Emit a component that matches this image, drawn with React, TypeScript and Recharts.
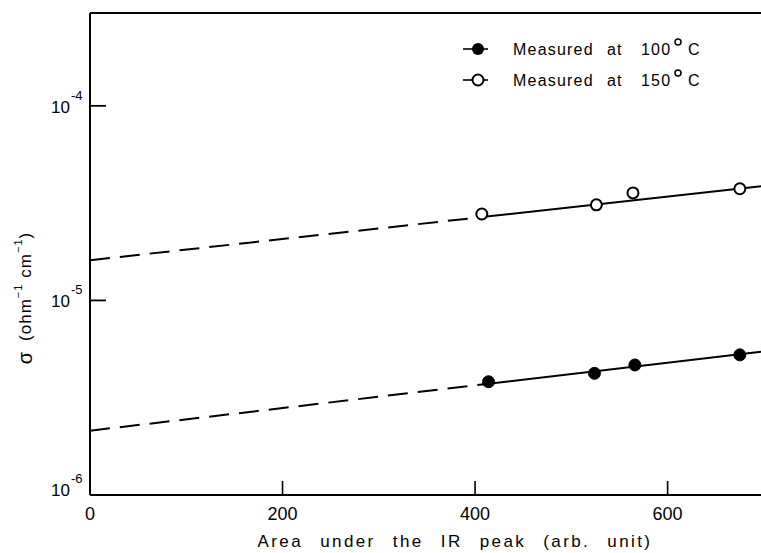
import React from 'react';
import { ComposedChart, Line, Scatter, XAxis, YAxis, ReferenceLine, Legend, Label } from 'recharts';

const FONT = '"Liberation Sans", Arial, sans-serif';

const xTicks = [0, 200, 400, 600];
const yTicks = [1e-6, 1e-5, 1e-4];
const yTickExponents = ['-6', '-5', '-4'];
const xDomain: [number, number] = [0, 697];
const yDomain: [number, number] = [1e-6, 3e-4];

// Measured at 100 °C (filled)
const area100 = [414, 524, 566, 675];
const sigma100 = [3.82e-6, 4.22e-6, 4.66e-6, 5.25e-6];
// Measured at 150 °C (open)
const area150 = [407, 526, 564, 675];
const sigma150 = [2.78e-5, 3.1e-5, 3.57e-5, 3.75e-5];

// Fitted lines (dashed extrapolation + solid fit)
const fitDashX100 = [0, 414];
const fitDashY100 = [2.14e-6, 3.73e-6];
const fitSolidX100 = [414, 697];
const fitSolidY100 = [3.73e-6, 5.45e-6];
const fitDashX150 = [0, 407];
const fitDashY150 = [1.61e-5, 2.68e-5];
const fitSolidX150 = [407, 697];
const fitSolidY150 = [2.68e-5, 3.86e-5];

const legendLabels = ['100', '150'];

const toPoints = (xs: number[], ys: number[]) => xs.map((x, i) => ({ x, y: ys[i] }));

const XTick = (props: any) => {
  const { x, y, payload } = props;
  return (
    <g>
      {payload.value !== 0 && (
        <line x1={x} x2={x} y1={y} y2={y - 14} stroke="#000" strokeWidth={1.6} />
      )}
      <text x={x} y={y + 25} textAnchor="middle" fontSize={18} fontFamily={FONT} fill="#000">
        {payload.value}
      </text>
    </g>
  );
};

const YTick = (props: any) => {
  const { x, y, payload } = props;
  const idx = yTicks.indexOf(payload.value);
  const isBottom = idx === 0;
  const base = y + (isBottom ? 1 : 7);
  return (
    <g>
      {!isBottom && <line x1={x} x2={x + 16} y1={y} y2={y} stroke="#000" strokeWidth={1.8} />}
      <text x={x - 20} y={base} textAnchor="end" fontSize={17} fontFamily={FONT} fill="#000">
        10
      </text>
      <text x={x - 19} y={base - 13} textAnchor="start" fontSize={13} fontFamily={FONT} fill="#000">
        {yTickExponents[idx]}
      </text>
    </g>
  );
};

const OpenDot = (props: any) => (
  <circle cx={props.cx} cy={props.cy} r={5.5} fill="#fff" stroke="#000" strokeWidth={2} />
);
const FilledDot = (props: any) => (
  <circle cx={props.cx} cy={props.cy} r={6} fill="#000" stroke="#000" strokeWidth={1} />
);

const renderLegend = () => {
  const rows = [
    { label: legendLabels[0], filled: true, cy: 19 },
    { label: legendLabels[1], filled: false, cy: 50 },
  ];
  return (
    <svg width={260} height={70} style={{ display: 'block', overflow: 'visible' }}>
      {rows.map((r) => (
        <g key={r.label}>
          <line x1={8} x2={33} y1={r.cy} y2={r.cy} stroke="#000" strokeWidth={1.6} />
          {r.filled ? (
            <circle cx={23} cy={r.cy} r={6} fill="#000" />
          ) : (
            <circle cx={23} cy={r.cy} r={5.5} fill="#fff" stroke="#000" strokeWidth={2} />
          )}
          <text y={r.cy + 6} fontSize={16} fontFamily={FONT} fill="#000" letterSpacing={1.2}>
            <tspan x={58}>Measured</tspan>
            <tspan x={152}>at</tspan>
            <tspan x={186}>{r.label}</tspan>
          </text>
          <circle cx={223} cy={r.cy - 7} r={3} fill="none" stroke="#000" strokeWidth={1.5} />
          <text x={233} y={r.cy + 6} fontSize={16} fontFamily={FONT} fill="#000">
            C
          </text>
        </g>
      ))}
    </svg>
  );
};

const XLabel = (props: any) => {
  const { viewBox } = props;
  return (
    <text
      x={viewBox.x + 365}
      y={viewBox.y + 52}
      textAnchor="middle"
      fontSize={17}
      fontFamily={FONT}
      fill="#000"
      style={{ letterSpacing: '2.4px', wordSpacing: '10px' }}
    >
      Area under the IR peak (arb. unit)
    </text>
  );
};

const YLabel = (props: any) => {
  const { viewBox } = props;
  const cx = viewBox.x + 25;
  const cy = 298;
  return (
    <text
      x={cx}
      y={cy}
      transform={`rotate(-90 ${cx} ${cy})`}
      textAnchor="middle"
      dominantBaseline="central"
      fontSize={17}
      fontFamily={FONT}
      fill="#000"
      style={{ letterSpacing: '1px' }}
    >
      <tspan fontSize={20}>σ</tspan>
      <tspan dx={10}>(ohm</tspan>
      <tspan fontSize={11} dy={-7}>−1</tspan>
      <tspan dx={6} dy={7}>cm</tspan>
      <tspan fontSize={11} dy={-7}>−1</tspan>
      <tspan dy={7}>)</tspan>
    </text>
  );
};

export default function App() {
  return (
    <div style={{ position: 'absolute', left: 0, top: 0, width: 761, height: 553, overflow: 'hidden' }}>
      <ComposedChart
        width={761}
        height={553}
        margin={{ top: 13, right: 0, bottom: 0, left: 0 }}
        style={{ fontFamily: FONT }}
      >
        <XAxis
          type="number"
          dataKey="x"
          domain={xDomain}
          ticks={xTicks}
          allowDataOverflow
          height={58}
          tickLine={false}
          tickSize={0}
          tickMargin={0}
          tick={<XTick />}
          axisLine={{ stroke: '#000', strokeWidth: 2 }}
          label={<Label content={<XLabel />} />}
        />
        <YAxis
          type="number"
          scale="log"
          domain={yDomain}
          ticks={yTicks}
          allowDataOverflow
          width={90}
          tickLine={false}
          tickSize={0}
          tickMargin={0}
          tick={<YTick />}
          axisLine={{ stroke: '#000', strokeWidth: 2 }}
          label={<Label content={<YLabel />} />}
        />
        <ReferenceLine y={yDomain[1]} stroke="#000" strokeWidth={2} />
        <Line
          data={toPoints(fitDashX150, fitDashY150)}
          dataKey="y"
          stroke="#000"
          strokeWidth={2}
          strokeDasharray="20 10"
          dot={false}
          activeDot={false}
          isAnimationActive={false}
        />
        <Line
          data={toPoints(fitSolidX150, fitSolidY150)}
          dataKey="y"
          stroke="#000"
          strokeWidth={2}
          dot={false}
          activeDot={false}
          isAnimationActive={false}
        />
        <Line
          data={toPoints(fitDashX100, fitDashY100)}
          dataKey="y"
          stroke="#000"
          strokeWidth={2}
          strokeDasharray="20 10"
          dot={false}
          activeDot={false}
          isAnimationActive={false}
        />
        <Line
          data={toPoints(fitSolidX100, fitSolidY100)}
          dataKey="y"
          stroke="#000"
          strokeWidth={2}
          dot={false}
          activeDot={false}
          isAnimationActive={false}
        />
        <Scatter
          data={toPoints(area150, sigma150)}
          dataKey="y"
          shape={<OpenDot />}
          isAnimationActive={false}
        />
        <Scatter
          data={toPoints(area100, sigma100)}
          dataKey="y"
          shape={<FilledDot />}
          isAnimationActive={false}
        />
        <Legend
          layout="vertical"
          align="center"
          verticalAlign="middle"
          content={renderLegend}
          wrapperStyle={{ top: 30, left: 455, width: 260, height: 70 }}
        />
      </ComposedChart>
    </div>
  );
}
